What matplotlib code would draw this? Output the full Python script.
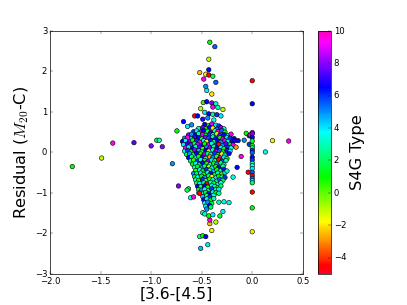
import matplotlib
matplotlib.use('Agg')
import matplotlib.pyplot as plt
import numpy as np

# outliers: colour index [3.6]-[4.5], M20-C residual, S4G type
left_x = [-1.78, -1.49, -1.38, -1.17, -1.00, -0.89, -0.945, -0.92, -0.79, -0.73, -0.745, -0.68, -0.64, -0.60, -0.63, -0.645, -0.61, -0.58, -0.52]
left_y = [-0.35, -0.14, 0.23, 0.24, 0.16, 0.14, 0.30, 0.30, -0.28, -0.83, 0.53, 0.76, 0.64, 0.68, -0.90, -0.93, -1.12, -1.10, -1.01]
left_t = [1, -1, 9.5, 7.5, 8, 8, 1.5, 3, 5, 8, 1, 6.5, 4, 5, 1.5, 2, 3.5, 9.5, -4.5]

upper_x = [-0.42, -0.37, -0.43, -0.43, -0.52, -0.46, -0.43, -0.39, -0.48, -0.36, -0.46, -0.45, -0.40, -0.485, -0.45, -0.40, -0.36, -0.51, -0.39, -0.34, -0.29,
           -0.57, -0.54, -0.47, -0.43, -0.39, -0.35, -0.31, -0.44, -0.49, -0.38]
upper_y = [2.72, 2.61, 2.30, 2.04, 1.97, 1.93, 1.91, 1.88, 1.81, 1.73, 1.63, 1.53, 1.44, 1.23, 1.25, 1.22, 1.20, 1.08, 1.12, 1.11, 1.06,
           0.90, 0.90, 0.99, 0.95, 0.94, 0.93, 0.90, 0.85, 0.82, 0.80]
upper_t = [1, 5.5, -1, 6.5, -2.5, -2, -4.5, 2, 9.5, 5.5, 5, 4, -2, 0.5, 6.5, 8, 3, -1, 9.5, 3, -1,
           -4.5, 6.5, 4, 6.5, 2.5, 6, 4, 5, 7, 3.5]

right_x = [-0.17, -0.14, -0.16, -0.11, -0.15, -0.19, -0.23, -0.33, -0.25, -0.06, -0.03, -0.02, -0.04, -0.03, 0.20, 0.36, 0.13, -0.08]
right_y = [0.29, 0.29, 0.13, -0.10, -0.37, -0.61, -1.24, -1.23, -0.46, 0.47, 0.41, 0.43, -0.49, 0.20, 0.29, 0.28, 0.01, 0.30]
right_t = [6.5, 6.5, -3, 9.5, 6.5, 3.5, 3.5, 3, 3, 1, 6.5, 9.5, -4.5, 6, -1.5, 9.5, 3.5, 5]

zero_x = [0.0] * 23
zero_y = [1.77, 1.20, 0.49, 0.46, 0.37, 0.28, 0.17, 0.11, 0.05, -0.01, -0.12, -0.19, -0.27, -0.33, -0.40, -0.49, -0.57, -0.64, -0.70, -0.75, -0.98, -1.37, -1.96]
zero_t = [-4.5, 6.5, 9, 8, 6.5, 1.5, 1, 2.5, 6, 5.5, 6.5, 6, 3, 3.5, 4, 5.5, -4.5, 5.5, 4, 2, -4.5, 1, -2]

lower_x = [-0.52, -0.49, -0.46, -0.51, -0.44, -0.40, -0.42, -0.36, -0.42, -0.43, -0.39, -0.32, -0.29, -0.49, -0.47, -0.28, -0.45, -0.41]
lower_y = [-2.08, -2.06, -2.08, -2.37, -2.28, -1.93, -1.76, -1.72, -1.67, -1.57, -1.54, -1.57, -1.46, -1.49, -1.52, -1.22, -1.40, -1.35]
lower_t = [3, 1, 6.5, 4.5, 4, -2, -2.5, -1, 9.5, 1, 4, 1.5, 4, 3.5, 3, 3.5, 5, 2]

# dense core, upper part
top_x = [-0.47, -0.43, -0.40, -0.36, -0.33,
         -0.53, -0.49, -0.46, -0.42, -0.39, -0.35, -0.31, -0.28,
         -0.58, -0.55, -0.51, -0.48, -0.44, -0.41, -0.37, -0.34, -0.30, -0.27,
         -0.63, -0.60, -0.56, -0.53, -0.49, -0.46, -0.42, -0.39, -0.35, -0.32, -0.28, -0.24, -0.21,
         -0.67, -0.64, -0.60, -0.57, -0.53, -0.50, -0.46, -0.43, -0.39, -0.36, -0.32, -0.29, -0.25, -0.22, -0.18,
         -0.69, -0.66, -0.62, -0.59, -0.55, -0.52, -0.48, -0.45, -0.41, -0.38, -0.34, -0.31, -0.27, -0.24, -0.20,
         -0.68, -0.64, -0.61, -0.57, -0.54, -0.50, -0.47, -0.43, -0.40, -0.36, -0.33, -0.29, -0.26, -0.22, -0.19,
         -0.66, -0.63, -0.59, -0.56, -0.52, -0.49, -0.45, -0.42, -0.38, -0.35, -0.31, -0.28, -0.24, -0.21]
top_y = [0.69, 0.66, 0.70, 0.67, 0.65,
         0.59, 0.61, 0.58, 0.62, 0.60, 0.57, 0.61, 0.58,
         0.51, 0.53, 0.50, 0.54, 0.52, 0.49, 0.53, 0.51, 0.54, 0.50,
         0.43, 0.45, 0.42, 0.46, 0.44, 0.41, 0.45, 0.43, 0.46, 0.42, 0.44, 0.41, 0.45,
         0.35, 0.37, 0.34, 0.38, 0.36, 0.33, 0.37, 0.35, 0.38, 0.34, 0.36, 0.33, 0.37, 0.35, 0.34,
         0.27, 0.29, 0.26, 0.30, 0.28, 0.25, 0.29, 0.27, 0.30, 0.26, 0.28, 0.25, 0.29, 0.27, 0.26,
         0.19, 0.21, 0.18, 0.22, 0.20, 0.17, 0.21, 0.19, 0.22, 0.18, 0.20, 0.17, 0.21, 0.19, 0.18,
         0.11, 0.13, 0.10, 0.14, 0.12, 0.09, 0.13, 0.11, 0.14, 0.10, 0.12, 0.09, 0.13, 0.11]
top_t = [6.5, 2, 9, 4, 6,
         3, 7.5, 1, 6.5, -2, 5, 8, 3.5,
         6, 4, 8.5, 6.5, 2, 7, 3.5, 9.5, 5.5, 1,
         8, 5, 6.5, 3, 9, 1.5, 6, 4, -1, 7.5, 6.5, 3.5, 9.5,
         5, 9.5, 4, 7, 6.5, 2, 8, 5.5, 3, 6.5, 1, 8.5, 4, 6, 6.5,
         6.5, 3.5, 8, 1, 6, 9.5, 4, -2, 7, 2.5, 6.5, 5, 9, 3, 6.5,
         4, 7, 5.5, 2, 8.5, 6.5, 1, 9, 3.5, 6, -4.5, 4.5, 7.5, 2, 9.5,
         9, 4, 6.5, 3, 7.5, 0.5, 5, 8, 2.5, 6.5, 4, 1.5, 6, 3.5]

# dense core, middle part
mid_x = [-0.67, -0.64, -0.60, -0.57, -0.53, -0.50, -0.46, -0.43, -0.39, -0.36, -0.32, -0.29, -0.25, -0.22,
         -0.65, -0.62, -0.58, -0.55, -0.51, -0.48, -0.44, -0.41, -0.37, -0.34, -0.30, -0.27, -0.23,
         -0.63, -0.60, -0.56, -0.53, -0.49, -0.46, -0.42, -0.39, -0.35, -0.32, -0.28, -0.25,
         -0.61, -0.58, -0.54, -0.51, -0.47, -0.44, -0.40, -0.37, -0.33, -0.30, -0.26,
         -0.59, -0.56, -0.52, -0.49, -0.45, -0.42, -0.38, -0.35, -0.31, -0.28,
         -0.57, -0.54, -0.50, -0.47, -0.43, -0.40, -0.36, -0.33, -0.29,
         -0.56, -0.52, -0.49, -0.45, -0.42, -0.38, -0.35, -0.31, -0.28]
mid_y = [0.03, 0.05, 0.02, 0.06, 0.04, 0.01, 0.05, 0.03, 0.06, 0.02, 0.04, 0.01, 0.05, 0.03,
         -0.05, -0.03, -0.06, -0.02, -0.04, -0.07, -0.03, -0.05, -0.02, -0.06, -0.04, -0.07, -0.03,
         -0.13, -0.11, -0.14, -0.10, -0.12, -0.15, -0.11, -0.13, -0.10, -0.14, -0.12, -0.15,
         -0.21, -0.19, -0.22, -0.18, -0.20, -0.23, -0.19, -0.21, -0.18, -0.22, -0.20,
         -0.29, -0.27, -0.30, -0.26, -0.28, -0.31, -0.27, -0.29, -0.26, -0.30,
         -0.37, -0.35, -0.38, -0.34, -0.36, -0.39, -0.35, -0.37, -0.34,
         -0.45, -0.43, -0.46, -0.42, -0.44, -0.47, -0.43, -0.45, -0.42]
mid_t = [3.5, 6, 1, 8, 4.5, 2, 6.5, -1, 3, 9, 5.5, 1.5, 7, 4,
         1.5, 5, 3, 6.5, 0.5, 8.5, 2.5, 4, 6, 1, -2, 3.5, 6.5,
         6.5, 2, 4, 1, 7, 3, -3, 5, 2, 9.5, 4, 1,
         2.5, 0.5, 6, 3.5, 1.5, 8, 4, 2, -4.5, 5.5, 3,
         1, 4, 2.5, 6.5, 0.5, 3.5, 1.5, 5, 2, 3.5,
         3, 1.5, 5, 2, -1, 4, 1, 6.5, 2.5,
         0.5, 3.5, 1.5, 6, 2.5, 4.5, 1, 3, 7]

# dense core, lower tail
low_x = [-0.58, -0.55, -0.51, -0.48, -0.44, -0.41, -0.37, -0.34, -0.30, -0.27,
         -0.57, -0.54, -0.50, -0.47, -0.43, -0.40, -0.36, -0.33, -0.30, -0.27,
         -0.56, -0.53, -0.49, -0.46, -0.42, -0.39, -0.35, -0.32, -0.29,
         -0.55, -0.52, -0.48, -0.45, -0.41, -0.38, -0.34, -0.31,
         -0.54, -0.51, -0.47, -0.44, -0.40, -0.37, -0.34, -0.31,
         -0.53, -0.50, -0.47, -0.43, -0.40, -0.36, -0.33,
         -0.53, -0.50, -0.46, -0.43, -0.39, -0.36, -0.33,
         -0.49, -0.45, -0.42, -0.38,
         -0.48, -0.45, -0.41, -0.38,
         -0.47, -0.44, -0.40,
         -0.46, -0.42]
low_y = [-0.52, -0.53, -0.51, -0.54, -0.50, -0.52, -0.55, -0.51, -0.53, -0.50,
         -0.60, -0.61, -0.59, -0.62, -0.58, -0.60, -0.63, -0.59, -0.61, -0.62,
         -0.68, -0.69, -0.67, -0.70, -0.66, -0.68, -0.71, -0.67, -0.69,
         -0.76, -0.77, -0.75, -0.78, -0.74, -0.76, -0.79, -0.75,
         -0.84, -0.85, -0.83, -0.86, -0.82, -0.84, -0.87, -0.83,
         -0.92, -0.93, -0.91, -0.94, -0.90, -0.92, -0.91,
         -1.00, -1.01, -0.99, -1.02, -0.98, -1.00, -1.01,
         -1.09, -1.07, -1.10, -1.06,
         -1.17, -1.15, -1.18, -1.14,
         -1.25, -1.23, -1.26,
         -1.33, -1.31]
low_t = [5, 2, 4, 1, 3.5, 6.5, 1.5, 3, 0.5, 4,
         1, 3.5, 1.5, 5, 2, -2, 4, 1, 2.5, 6,
         3, 1, 6, 3, 0.5, 3.5, 2, 5.5, 1.5,
         2, 4, 2, -4.5, 3, 1.5, 4, 3.5,
         6.5, 2.5, 6.5, 1, 4, 3, 0.5, 2,
         1.5, 5, 3.5, 2, 6, 3, 4,
         4, 3, 1.5, 6.5, 4, 1, 2.5,
         4.5, 2.5, 6, 3.5,
         6.5, 4, 1, 3,
         3.5, 5, 2,
         4, 6.5]

xs = np.concatenate([top_x, mid_x, low_x, left_x, upper_x, right_x, zero_x, lower_x])
ys = np.concatenate([top_y, mid_y, low_y, left_y, upper_y, right_y, zero_y, lower_y])
ts = np.concatenate([top_t, mid_t, low_t, left_t, upper_t, right_t, zero_t, lower_t])

plt.style.use('classic')
plt.rcParams['figure.facecolor'] = 'white'
plt.rcParams['savefig.facecolor'] = 'white'
plt.rcParams['mathtext.fontset'] = 'cm'

fig = plt.figure(figsize=(8, 6), dpi=50.875)
ax = fig.add_axes([0.123, 0.102, 0.621, 0.796])
sc = ax.scatter(xs, ys, c=ts, cmap='gist_rainbow', vmin=-5, vmax=10,
                s=40, edgecolors='k', linewidths=0.8)
ax.set_xlim(-2.0, 0.5)
ax.set_ylim(-3, 3)
ax.set_xticks([-2.0, -1.5, -1.0, -0.5, 0.0, 0.5])
ax.set_yticks([-3, -2, -1, 0, 1, 2, 3])
ax.tick_params(labelsize=12)
ax.set_xlabel('[3.6-[4.5]', fontsize=22, labelpad=1)
ax.set_ylabel('Residual ($M_{20}$-C)', fontsize=23)

cax = fig.add_axes([0.781, 0.102, 0.032, 0.796])
cb = fig.colorbar(sc, cax=cax, ticks=[-4, -2, 0, 2, 4, 6, 8, 10])
cb.ax.tick_params(labelsize=12)
cb.set_label('S4G Type', fontsize=23)

fig.savefig('out.png', dpi=50.875)
